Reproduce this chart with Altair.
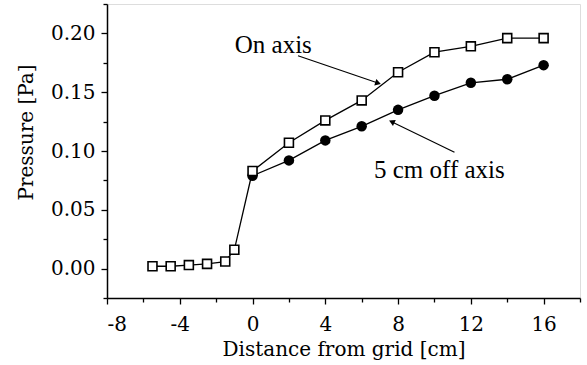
import altair as alt
import pandas as pd

# Data
on_x = [-5.5, -4.5, -3.5, -2.5, -1.5, -1.0, 0, 2, 4, 6, 8, 10, 12, 14, 16]
on_y = [0.002, 0.002, 0.003, 0.004, 0.006, 0.016, 0.083, 0.107, 0.126, 0.143, 0.167, 0.184, 0.189, 0.196, 0.196]
off_x = [0, 2, 4, 6, 8, 10, 12, 14, 16]
off_y = [0.079, 0.092, 0.109, 0.121, 0.135, 0.147, 0.158, 0.161, 0.173]

# Annotations (labels and arrows, in data units)
label_text = ["On axis", "5 cm off axis"]
label_x = [1.14, 10.27]
label_y = [0.183, 0.077]
arrow_x = [2.5, 11.1]
arrow_y = [0.181, 0.099]
arrow_x2 = [6.85, 7.7]
arrow_y2 = [0.158, 0.1245]
arrow_angle = [108, 295]

x_ticks = [-8, -6, -4, -2, 0, 2, 4, 6, 8, 10, 12, 14, 16, 18]
y_ticks = [-0.025, 0, 0.025, 0.05, 0.075, 0.1, 0.125, 0.15, 0.175, 0.2, 0.225]

df_on = pd.DataFrame({"x": on_x, "y": on_y})
df_off = pd.DataFrame({"x": off_x, "y": off_y})
df_lab = pd.DataFrame({"t": label_text, "x": label_x, "y": label_y})
df_arr = pd.DataFrame({"x": arrow_x, "y": arrow_y, "x2": arrow_x2, "y2": arrow_y2, "a": arrow_angle})

AXFONT = "DejaVu Serif"
TXFONT = "Liberation Serif"

xscale = alt.Scale(domain=[-8, 18], nice=False, zero=False)
yscale = alt.Scale(domain=[-0.025, 0.225], nice=False, zero=False)

xaxis = alt.Axis(
    title="Distance from grid [cm]",
    values=x_ticks,
    labelExpr="datum.value % 4 === 0 ? '' + datum.value : ''",
    grid=False,
    domainColor="black", domainWidth=1.5,
    tickColor="black", tickWidth=1.3,
    tickSize={"condition": {"test": "datum.value % 4 === 0", "value": 6}, "value": 4},
    labelFont=AXFONT, labelFontSize=20, labelColor="black", labelPadding=10,
    titleFont=AXFONT, titleFontSize=20, titleFontWeight="normal", titleColor="black",
    titlePadding=5,
)
yaxis = alt.Axis(
    title="Pressure [Pa]",
    values=y_ticks,
    labelExpr="abs(round(datum.value*1000)) % 50 === 0 ? format(datum.value, '.2f') : ''",
    grid=False,
    domainColor="black", domainWidth=1.5,
    tickColor="black", tickWidth=1.3,
    tickSize={"condition": {"test": "abs(round(datum.value*1000)) % 50 === 0", "value": 6}, "value": 4},
    labelFont=AXFONT, labelFontSize=20, labelColor="black", labelPadding=6,
    titleFont=AXFONT, titleFontSize=20, titleFontWeight="normal", titleColor="black",
    titlePadding=14, titleY=128,
)

X = alt.X("x:Q", scale=xscale, axis=xaxis)
Y = alt.Y("y:Q", scale=yscale, axis=yaxis)

line_on = alt.Chart(df_on).mark_line(color="black", strokeWidth=1.3).encode(x=X, y=Y)
line_off = alt.Chart(df_off).mark_line(color="black", strokeWidth=1.3).encode(x=X, y=Y)
pts_off = alt.Chart(df_off).mark_point(shape="circle", filled=True, color="black", size=110, opacity=1).encode(x=X, y=Y)
pts_on = alt.Chart(df_on).mark_point(shape="square", filled=True, fill="white", stroke="black",
                                     strokeWidth=1.6, size=80, opacity=1).encode(x=X, y=Y)

arrows = alt.Chart(df_arr).mark_rule(color="black", strokeWidth=1.2).encode(
    x=X, y=Y, x2="x2:Q", y2="y2:Q")
heads = alt.Chart(df_arr).mark_point(shape="triangle", filled=True, color="black", size=45, opacity=1).encode(
    x=alt.X("x2:Q", scale=xscale, axis=xaxis), y=alt.Y("y2:Q", scale=yscale, axis=yaxis),
    angle=alt.Angle("a:Q", scale=None))
labels = alt.Chart(df_lab).mark_text(font=TXFONT, fontSize=25, color="black", align="center",
                                     baseline="alphabetic").encode(x=X, y=Y, text="t:N")

chart = alt.layer(line_on, line_off, arrows, heads, pts_off, pts_on, labels).properties(
    width=473, height=294,
    autosize=alt.AutoSizeParams(type="none"),
    padding={"left": 107, "top": 4, "right": 7, "bottom": 67},
).configure_view(stroke="black", strokeWidth=1.5).configure(background="white")

chart.save("out.html", embed_options={"renderer": "svg", "actions": False})
